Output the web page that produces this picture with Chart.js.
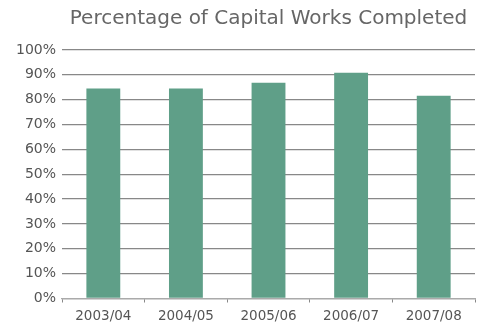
<!DOCTYPE html>
<html>
<head>
<meta charset="utf-8">
<script src="https://cdn.jsdelivr.net/npm/chart.js@4"></script>
<style>
    html, body { margin: 0; padding: 0; background: #fff; }
    #wrap { width: 484px; height: 322px; position: relative; }
</style>
</head>
<body>
<div id="wrap"><canvas id="worksChart"></canvas></div>
<script>
// Chart data
const years = ['2003/04', '2004/05', '2005/06', '2006/07', '2007/08'];
const completed = [84.5, 84.5, 86.8, 90.8, 81.6];
const yTicks = [0, 10, 20, 30, 40, 50, 60, 70, 80, 90, 100];

// Center the title over the plot area, not the whole canvas
const titleOverPlot = {
    id: 'titleOverPlot',
    afterLayout(chart) {
        if (chart.titleBlock) {
            chart.titleBlock.left = chart.chartArea.left;
            chart.titleBlock.right = chart.chartArea.right;
        }
    }
};

document.addEventListener('DOMContentLoaded', () => {
    const ctx = document.getElementById('worksChart');
    new Chart(ctx, {
        type: 'bar',
        data: {
            labels: years,
            datasets: [{
                label: 'Completed',
                data: completed,
                backgroundColor: '#5f9f88',
                barPercentage: 0.41,
                categoryPercentage: 1
            }]
        },
        options: {
            responsive: true,
            maintainAspectRatio: false,
            animation: false,
            layout: { padding: { left: 10, right: 9, top: 0, bottom: -8 } },
            plugins: {
                legend: { display: false },
                tooltip: { enabled: false },
                title: {
                    display: true,
                    text: 'Percentage of Capital Works Completed',
                    color: '#666',
                    font: { family: 'DejaVu Sans', size: 20, weight: 'normal' },
                    padding: { top: 7, bottom: 19 }
                }
            },
            scales: {
                x: {
                    grid: {
                        offset: true,
                        drawOnChartArea: false,
                        drawTicks: true,
                        tickLength: 4,
                        color: '#888'
                    },
                    border: { color: '#aaa', width: 1.3 },
                    ticks: {
                        color: '#555',
                        padding: 7,
                        maxRotation: 0,
                        font: { family: 'DejaVu Sans', size: 13.5, lineHeight: 1 }
                    }
                },
                y: {
                    min: 0,
                    max: 100,
                    afterBuildTicks: (axis) => {
                        axis.ticks = yTicks.map(v => ({ value: v }));
                    },
                    grid: { color: '#888', lineWidth: 1.3, drawTicks: false },
                    border: { display: false },
                    ticks: {
                        color: '#555',
                        padding: 6,
                        font: { family: 'DejaVu Sans', size: 14 },
                        callback: (v) => v + '%'
                    }
                }
            }
        },
        plugins: [titleOverPlot]
    });
});
</script>
</body>
</html>
